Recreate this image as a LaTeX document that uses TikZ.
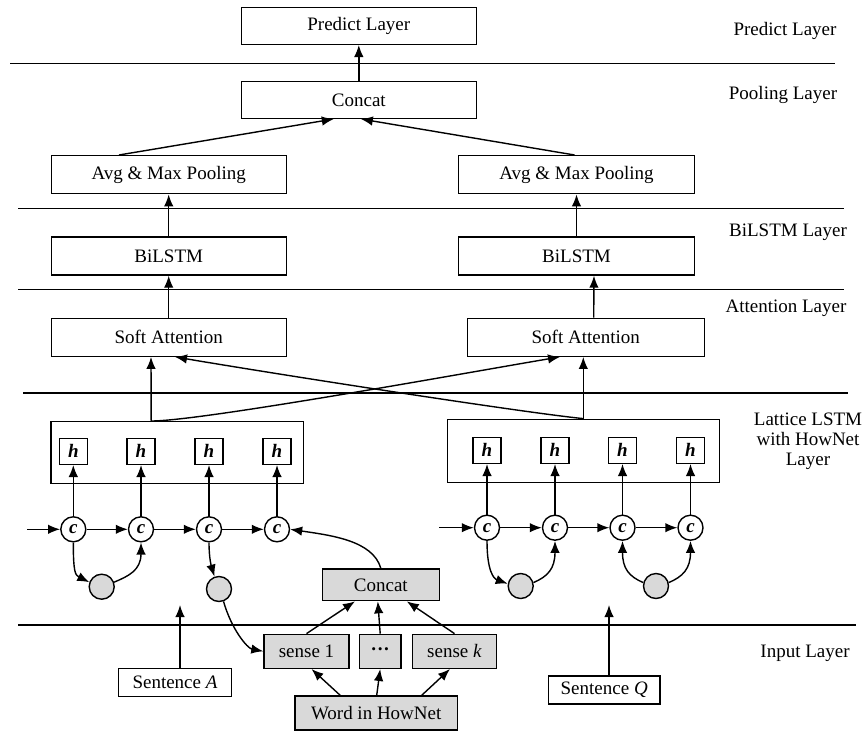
\documentclass[tikz,border=0pt]{standalone}
\usepackage{fontspec}
\setmainfont{Liberation Serif}
\usetikzlibrary{arrows.meta,positioning,calc}
\definecolor{ink}{HTML}{000000}
\definecolor{gf}{HTML}{D9D9D9}
\newcommand{\figfont}{\fontsize{19}{20}\selectfont}
\tikzset{
  box/.style={draw=ink,line width=1.4pt,minimum width=235pt,minimum height=37pt,inner sep=0pt,font=\figfont,text=ink},
  gbox/.style={box,fill=gf},
  hcell/.style={draw=ink,line width=1.4pt,minimum width=28pt,minimum height=26pt,inner sep=0pt,font=\figfont\bfseries\itshape},
  ccell/.style={circle,draw=ink,line width=1.4pt,minimum size=25pt,inner sep=0pt,font=\figfont\bfseries\itshape},
  gcell/.style={circle,draw=ink,fill=gf,line width=1.4pt,minimum size=25pt,inner sep=0pt},
  data/.style={-{Latex[length=12pt,width=9.5pt]},line width=1.4pt,ink},
  sep/.style={line width=1.4pt,ink},
  lab/.style={font=\figfont,text=ink,align=center,inner sep=0pt}
}

\begin{document}
\begin{tikzpicture}[x=1pt,y=-1pt]
\useasboundingbox (0,0) rectangle (864,736);
% ================= layer separators =================
\draw[sep] (10,63.3) -- (835,63.3);
\draw[sep] (18,208.3) -- (844,208.3);
\draw[sep] (18,289.3) -- (844,289.3);
\draw[sep] (23,393) -- (848,393);
\draw[sep] (18,625) -- (856,625);
% ================= layer names =================
\node[lab] at (785,31) {Predict Layer};
\node[lab] at (783,95) {Pooling Layer};
\node[lab] at (788,232) {BiLSTM Layer};
\node[lab] at (786,308) {Attention Layer};
\node[lab] at (808,441) {Lattice LSTM\\with HowNet\\Layer};
\node[lab] at (805,653) {Input Layer};
% ================= upper stack =================
\node[box] (pred) at (358.8,25.8) {Predict Layer};
\node[box,minimum height=36.6pt] (cat) at (358.8,100) {Concat};
\node[box,minimum height=38pt] (avgA) at (168.7,174.7) {Avg \& Max Pooling};
\node[box,minimum height=38pt,minimum width=236pt] (avgQ) at (576.5,174.7) {Avg \& Max Pooling};
\node[box,minimum height=38pt] (biA) at (168.7,256) {BiLSTM};
\node[box,minimum height=38pt,minimum width=236pt] (biQ) at (576.5,256) {BiLSTM};
\node[box,minimum height=38pt] (softA) at (168.7,337.2) {Soft Attention};
\node[box,minimum height=38pt,minimum width=237pt] (softQ) at (585.7,337.2) {Soft Attention};
\draw[data] (cat) -- (pred);
\draw[data] ([xshift=-49.7pt]avgA.north) -- ([xshift=-25pt]cat.south);
\draw[data] ([xshift=-2pt]avgQ.north) -- ([xshift=2pt]cat.south);
\draw[data] (biA) -- (avgA);
\draw[data] (biQ) -- (avgQ);
\draw[data] (softA) -- (biA);
\draw[data] ([xshift=8pt]softQ.north) -- ([xshift=17.5pt]biQ.south);
% ================= lattice LSTM =================
\node[box,minimum width=252.3pt,minimum height=61.6pt] (latA) at (177.2,452.5) {};
\node[box,minimum width=272pt,minimum height=63pt] (latQ) at (583.3,450.8) {};
\foreach \i/\x in {1/73.3,2/141,3/209,4/277}
  {\node[hcell] (hA\i) at (\x,451.3) {h};
   \node[ccell] (cA\i) at (\x,529.3) {c};
   \draw[data] (cA\i) -- (hA\i);}
\foreach \i/\x in {1/487,2/555,3/622.5,4/690.5}
  {\node[hcell] (hQ\i) at (\x,450.3) {h};
   \node[ccell] (cQ\i) at (\x,527.7) {c};
   \draw[data] (cQ\i) -- (hQ\i);}
\foreach \i/\j in {1/2,2/3,3/4}
  {\draw[data] (cA\i) -- (cA\j); \draw[data] (cQ\i) -- (cQ\j);}
\coordinate (startA) at (27,529.3);
\coordinate (startQ) at (439.3,527.7);
\draw[data] (startA) -- (cA1);
\draw[data] (startQ) -- (cQ1);
% word cells
\node[gcell] (gA1) at (101.7,586.7) {};
\node[gcell] (gA2) at (219,589) {};
\node[gcell] (gQ1) at (520.7,586) {};
\node[gcell] (gQ2) at (656,586) {};
\draw[data] (cA1.south) .. controls +(0,30) and +(-14,-7) .. (gA1.160);
\draw[data] (gA1.20) .. controls +(14,-6) and +(0,28) .. (cA2.south);
\draw[data] (cA3.south) .. controls +(0,16) and +(-3,-10) .. (gA2.110);
\draw[data] (cQ1.south) .. controls +(0,30) and +(-14,-5) .. (gQ1.170);
\draw[data] (gQ1.15) .. controls +(14,-6) and +(0,28) .. (cQ2.south);
\draw[data] (gQ2.165) .. controls +(-14,-6) and +(0,28) .. (cQ3.south);
\draw[data] (gQ2.15) .. controls +(14,-6) and +(0,28) .. (cQ4.south);
% lattice to attention, crossed
\draw[data] ([xshift=-26pt]latA.north) -- ([xshift=-17.7pt]softA.south);
\draw[data] (latQ.north) -- (latQ.north |- softQ.south);
\draw[data] ([xshift=-26pt]latA.north) .. controls +(50,0) and +(-100,17) .. ([xshift=-25.7pt]softQ.south);
\draw[data] (latQ.north) .. controls +(-60,-6) and +(100,17) .. ([xshift=6.3pt]softA.south);
% ================= HowNet senses =================
\node[gbox,minimum width=117pt,minimum height=31.7pt] (hcat) at (380.8,584.8) {Concat};
\node[gbox,minimum width=85pt,minimum height=34pt] (sense1) at (306.5,651.3) {sense 1};
\node[gbox,minimum width=41.7pt,minimum height=34pt] (sdots) at (380.2,651.3) {\bfseries ···};
\node[gbox,minimum width=84.4pt,minimum height=34pt] (sensek) at (454.5,651.3) {sense \textit{k}};
\node[gbox,minimum width=162.3pt,minimum height=34pt] (word) at (376.2,713) {Word in HowNet};
\draw[data] (sense1.north) -- ([xshift=-25.8pt]hcat.south);
\draw[data] (sdots.north) -- ([xshift=-3pt]hcat.south);
\draw[data] (sensek.north) -- ([xshift=26pt]hcat.south);
\draw[data] ([xshift=-36pt]word.north) -- ([xshift=5pt]sense1.south);
\draw[data] ([xshift=0.5pt]word.north) -- (sdots.south);
\draw[data] ([xshift=45.5pt]word.north) -- ([xshift=-4.5pt]sensek.south);
\draw[data] (gA2.-70) .. controls +(8,28) and +(-16,-3) .. (sense1.west);
\draw[data] (hcat.north) .. controls +(-8,-28) and +(40,6) .. (cA4.east);
% ================= sentences =================
\node[box,minimum width=113.4pt,minimum height=28.4pt] (sentA) at (175,682.5) {Sentence \textit{A}};
\node[box,minimum width=111.7pt,minimum height=28pt] (sentQ) at (604.2,690) {Sentence \textit{Q}};
\coordinate (inA) at (180,605);
\coordinate (inQ) at (609,605);
\draw[data] ([xshift=5pt]sentA.north) -- (inA);
\draw[data] ([xshift=4.8pt]sentQ.north) -- (inQ);
\end{tikzpicture}
\end{document}
